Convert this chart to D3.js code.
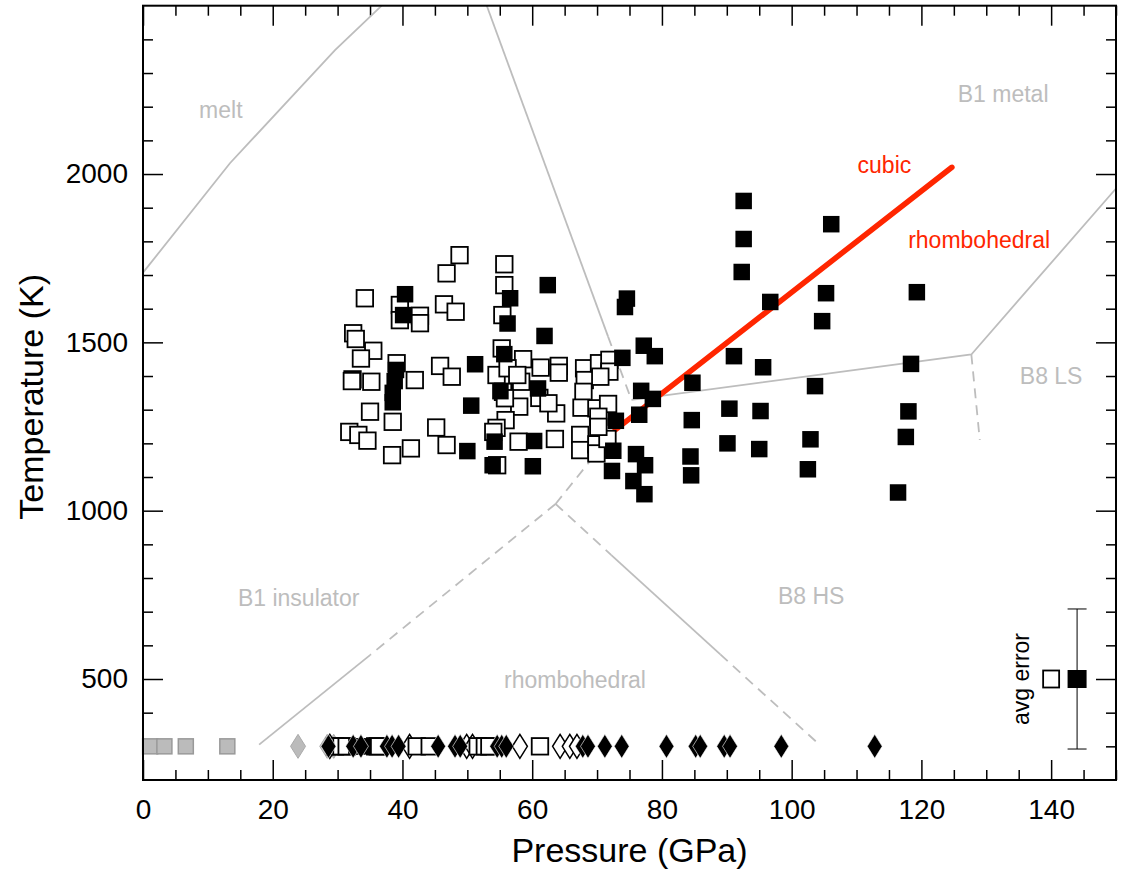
<!DOCTYPE html>
<html>
<head>
<meta charset="utf-8">
<title>Phase diagram</title>
<script src="https://cdnjs.cloudflare.com/ajax/libs/d3/7.8.5/d3.min.js"></script>
<style>
body{margin:0;background:#fff;}
svg text{font-family:"Liberation Sans",Arial,Helvetica,sans-serif;}
</style>
</head>
<body>
<div id="graph"></div>
<script>
// all points are [pressure (GPa), temperature (K)]
var openSquares = [
	[48.8,1759],[46.8,1705],[55.7,1732],[55.7,1670],[34.2,1631],[39.6,1611],[42.7,1579],[42.7,1557],[39.6,1566],
	[46.4,1613],[48.2,1591],[55.4,1581],[32.4,1527],[32.8,1510],[35.5,1475],[33.6,1452],[55.3,1482],[58.6,1450],
	[39.1,1438],[45.8,1430],[47.6,1398],[61.3,1425],[64.1,1430],[64.1,1410],[32.3,1390],[32.2,1385],[35.2,1383],
	[41.9,1388],[54.5,1403],[56.2,1423],[58.3,1383],[55.5,1353],[61.1,1335],[68.0,1423],[68.1,1388],[70.3,1438],
	[71.9,1448],[71.9,1413],[67.9,1353],[35.0,1294],[38.5,1264],[58.0,1309],[55.8,1334],[63.7,1289],[67.6,1306],
	[69.9,1304],[71.7,1317],[31.8,1234],[33.2,1225],[34.6,1208],[45.2,1247],[55.9,1269],[46.8,1195],[38.4,1165],
	[41.3,1185],[57.9,1205],[63.5,1213],[67.4,1225],[67.4,1180],[69.9,1197],[69.9,1170],[71.6,1213],[54.5,1246],
	[54.0,1234],[54.6,1135],[57.7,1403],[70.2,1279],[70.2,1249],[62.5,1319],[70.5,1398]
];
var filledSquares = [
	[92.6,1920],[92.6,1807],[92.3,1709],[106.1,1851],[96.7,1620],[105.3,1646],[119.3,1649],[104.7,1563],
	[74.6,1630],[74.3,1605],[77.2,1490],[78.9,1459],[73.9,1454],[91.1,1459],[95.6,1426],[118.4,1436],
	[84.7,1380],[103.6,1370],[76.8,1356],[78.6,1332],[76.5,1285],[72.9,1267],[90.4,1303],[95.2,1296],[118,1295],
	[84.6,1269],[90.1,1200],[95,1183],[102.9,1212],[117.6,1219],[84.4,1161],[72.5,1178],[76.0,1168],[77.4,1135],
	[72.3,1118],[84.5,1105],[102.5,1123],[75.6,1088],[77.3,1049],[116.4,1054],
	[40.4,1643],[40.1,1581],[62.4,1670],[56.6,1631],[56.2,1556],[61.9,1519],[55.7,1465],[51.2,1435],
	[39.0,1418],[38.8,1385],[38.5,1350],[38.5,1322],[55.1,1355],[60.9,1363],[50.6,1312],[54.2,1205],[60.3,1207],
	[50.0,1177],[53.9,1135],[60.1,1132]
];

// room temperature row (pressures only)
var roomT = 300;
var roomGraySquares = [1.1, 3.3, 6.6, 13.0];
var roomGrayDiamonds = [23.9, 28.4, 29.4];
var roomOpenDiamonds = [28.8, 41.1, 49.9, 50.8, 58.1, 64.3, 65.8, 66.9];
var roomOpenSquares = [29.6, 30.6, 31.4, 35.8, 36.2, 42.2, 44.2, 51.6, 52.7, 53.4, 61.2];
var roomFilledSquares = [32.9, 34.0];
var roomFilledDiamonds = [28.6, 32.4, 33.6, 37.6, 38.4, 39.4, 45.5, 48.1, 48.9, 54.6, 55.3, 56.0,
	67.8, 68.6, 71.2, 73.8, 80.7, 85.2, 85.9, 89.6, 90.5, 98.4, 112.8];

// phase boundaries
var solidLines = [
	[[0,1707],[13.4,2032],[29.6,2368],[36.8,2500]],
	[[53.0,2500],[71.7,1517]],
	[[75.3,1329],[127.7,1464],[150,1957]],
	[[35.0,571],[17.9,305]],
	[[72.2,868],[89.0,573]]
];
var dashedLines = [
	[[71.7,1517],[75.3,1329]],
	[[127.7,1464],[129,1210]],
	[[63.6,1020],[72.8,1240]],
	[[63.6,1020],[35.0,571]],
	[[63.6,1020],[72.2,868]],
	[[89.0,573],[104,310]]
];
var transitionLine = [[72.8,1240],[124.7,2020]];

var grayLabels = [
	["melt",12.0,2166],["B1 metal",132.6,2214],["B8 LS",140,1376],
	["B1 insulator",24,717],["B8 HS",103,722],["rhombohedral",66.6,473]
];
var redLabels = [["cubic",114.3,2003],["rhombohedral",128.9,1780]];

// avg error legend
var errOpen = [140, 500];
var errFilled = [144, 500];
var errSize = 208;

var xDomain = [0, 150];
var yDomain = [200, 2500];
var xMajor = [0, 20, 40, 60, 80, 100, 120, 140];
var yMajor = [500, 1000, 1500, 2000];

(function(){
"use strict";

var W = 1125, H = 871;
var left = 143, right = 1116, top = 5.7, bottom = 780;
var gray = "#bdbdbd";
var sq = 16.5;

var x = d3.scaleLinear().domain(xDomain).range([left, right]);
var y = d3.scaleLinear().domain(yDomain).range([bottom, top]);

var svg = d3.select('#graph')
	.append('svg')
		.attr('width', W)
		.attr('height', H);

var xMinor = d3.range(0, 151, 5).filter(function(v){ return v % 20 !== 0; });
var yMinor = d3.range(300, 2500, 100).filter(function(v){ return v % 500 !== 0; });

// ticks point inwards on all four sides
function ticks(axis, tr, values, len, labels){
	var g = svg.append('g')
		.attr('transform', tr)
		.call(axis.tickValues(values).tickSize(-len).tickSizeOuter(0)
			.tickFormat(labels ? d3.format('d') : ''));
	g.select('.domain').remove();
	g.selectAll('line').attr('stroke', '#000').attr('stroke-width', 1.5);
	return g;
}
var gx = ticks(d3.axisBottom(x).tickPadding(19), 'translate(0,' + bottom + ')', xMajor, 20, true);
ticks(d3.axisBottom(x), 'translate(0,' + bottom + ')', xMinor, 10, false);
ticks(d3.axisTop(x), 'translate(0,' + top + ')', xMajor, 20, false);
ticks(d3.axisTop(x), 'translate(0,' + top + ')', xMinor, 10, false);
var gy = ticks(d3.axisLeft(y).tickPadding(15), 'translate(' + left + ',0)', yMajor, 20, true);
ticks(d3.axisLeft(y), 'translate(' + left + ',0)', yMinor, 10, false);
ticks(d3.axisRight(y), 'translate(' + right + ',0)', yMajor, 20, false);
ticks(d3.axisRight(y), 'translate(' + right + ',0)', yMinor, 10, false);

gx.selectAll('text').attr('font-size', 28).attr('fill', '#000')
	.style('font-family', '"Liberation Sans",Arial,sans-serif');
gy.selectAll('text').attr('font-size', 28).attr('fill', '#000')
	.style('font-family', '"Liberation Sans",Arial,sans-serif');

// phase boundaries
var line = d3.line()
	.x(function(d){ return x(d[0]); })
	.y(function(d){ return y(d[1]); });

svg.append('g').selectAll('path')
	.data(solidLines)
	.enter()
	.append('path')
		.attr('d', line)
		.attr('fill', 'none')
		.attr('stroke', gray)
		.attr('stroke-width', 1.8);

svg.append('g').selectAll('path')
	.data(dashedLines)
	.enter()
	.append('path')
		.attr('d', line)
		.attr('fill', 'none')
		.attr('stroke', gray)
		.attr('stroke-width', 1.8)
		.attr('stroke-dasharray', '10,7');

svg.append('g').selectAll('text')
	.data(grayLabels)
	.enter()
	.append('text')
		.attr('x', function(d){ return x(d[1]); })
		.attr('y', function(d){ return y(d[2]); })
		.attr('text-anchor', 'middle')
		.attr('font-size', 23)
		.attr('fill', gray)
		.text(function(d){ return d[0]; });

// red transition line sits under the points
svg.append('path')
	.attr('d', line(transitionLine))
	.attr('fill', 'none')
	.attr('stroke', '#ff2600')
	.attr('stroke-width', 5.5)
	.attr('stroke-linecap', 'round');

svg.append('g').selectAll('text')
	.data(redLabels)
	.enter()
	.append('text')
		.attr('x', function(d){ return x(d[1]); })
		.attr('y', function(d){ return y(d[2]); })
		.attr('text-anchor', 'middle')
		.attr('font-size', 23)
		.attr('fill', '#ff2600')
		.text(function(d){ return d[0]; });

// data points
svg.append('g').selectAll('rect')
	.data(openSquares)
	.enter()
	.append('rect')
		.attr('x', function(d){ return x(d[0]) - sq / 2; })
		.attr('y', function(d){ return y(d[1]) - sq / 2; })
		.attr('width', sq)
		.attr('height', sq)
		.attr('fill', '#fff')
		.attr('stroke', '#000')
		.attr('stroke-width', 1.8);

svg.append('g').selectAll('rect')
	.data(filledSquares)
	.enter()
	.append('rect')
		.attr('x', function(d){ return x(d[0]) - sq / 2; })
		.attr('y', function(d){ return y(d[1]) - sq / 2; })
		.attr('width', sq)
		.attr('height', sq)
		.attr('fill', '#000');

// 300 K row
function diamond(p){
	var cx = x(p), cy = y(roomT);
	return 'M' + cx + ',' + (cy - 12) + 'L' + (cx + 7.5) + ',' + cy +
		'L' + cx + ',' + (cy + 12) + 'L' + (cx - 7.5) + ',' + cy + 'Z';
}
var room = svg.append('g');
room.selectAll('rect.gs')
	.data(roomGraySquares)
	.enter()
	.append('rect')
		.attr('class', 'gs')
		.attr('x', function(d){ return x(d) - 7.5; })
		.attr('y', y(roomT) - 7.5)
		.attr('width', 15)
		.attr('height', 15)
		.attr('fill', '#bbb')
		.attr('stroke', '#999')
		.attr('stroke-width', 1.5);
room.selectAll('path.gd')
	.data(roomGrayDiamonds)
	.enter()
	.append('path')
		.attr('class', 'gd')
		.attr('d', diamond)
		.attr('fill', '#bbb')
		.attr('stroke', '#aaa')
		.attr('stroke-width', 1);
room.selectAll('path.od')
	.data(roomOpenDiamonds)
	.enter()
	.append('path')
		.attr('class', 'od')
		.attr('d', diamond)
		.attr('fill', '#fff')
		.attr('stroke', '#000')
		.attr('stroke-width', 1.5);
room.selectAll('rect.os')
	.data(roomOpenSquares)
	.enter()
	.append('rect')
		.attr('class', 'os')
		.attr('x', function(d){ return x(d) - sq / 2; })
		.attr('y', y(roomT) - sq / 2)
		.attr('width', sq)
		.attr('height', sq)
		.attr('fill', '#fff')
		.attr('stroke', '#000')
		.attr('stroke-width', 1.8);
room.selectAll('rect.fs')
	.data(roomFilledSquares)
	.enter()
	.append('rect')
		.attr('class', 'fs')
		.attr('x', function(d){ return x(d) - sq / 2; })
		.attr('y', y(roomT) - sq / 2)
		.attr('width', sq)
		.attr('height', sq)
		.attr('fill', '#000');
room.selectAll('path.fd')
	.data(roomFilledDiamonds)
	.enter()
	.append('path')
		.attr('class', 'fd')
		.attr('d', diamond)
		.attr('fill', '#000')
		.attr('stroke', '#fff')
		.attr('stroke-width', 0.6);

// avg error legend
var ex = x(errFilled[0]);
svg.append('line')
	.attr('x1', ex).attr('x2', ex)
	.attr('y1', y(errFilled[1] - errSize)).attr('y2', y(errFilled[1] + errSize))
	.attr('stroke', '#000').attr('stroke-width', 1);
[errFilled[1] - errSize, errFilled[1] + errSize].forEach(function(t){
	svg.append('line')
		.attr('x1', ex - 9.5).attr('x2', ex + 9.5)
		.attr('y1', y(t)).attr('y2', y(t))
		.attr('stroke', '#000').attr('stroke-width', 1);
});
svg.append('rect')
	.attr('x', x(errOpen[0]) - 8).attr('y', y(errOpen[1]) - 8.5)
	.attr('width', 16).attr('height', 17)
	.attr('fill', '#fff').attr('stroke', '#000').attr('stroke-width', 1.8);
svg.append('rect')
	.attr('x', ex - 9.5).attr('y', y(errFilled[1]) - 9)
	.attr('width', 19).attr('height', 18)
	.attr('fill', '#000');
svg.append('text')
	.attr('transform', 'translate(' + (x(errOpen[0]) - 22) + ',' + y(errOpen[1]) + ') rotate(-90)')
	.attr('text-anchor', 'middle')
	.attr('font-size', 23)
	.attr('fill', '#000')
	.text('avg error');

// frame
svg.append('rect')
	.attr('x', left).attr('y', top)
	.attr('width', right - left).attr('height', bottom - top)
	.attr('fill', 'none')
	.attr('stroke', '#000')
	.attr('stroke-width', 2);

// axis titles
svg.append('text')
	.attr('x', (left + right) / 2)
	.attr('y', 862)
	.attr('text-anchor', 'middle')
	.attr('font-size', 34)
	.text('Pressure (GPa)');
svg.append('text')
	.attr('transform', 'translate(43,' + ((top + bottom) / 2 + 4) + ') rotate(-90)')
	.attr('text-anchor', 'middle')
	.attr('font-size', 34)
	.text('Temperature (K)');

})();
</script>
</body>
</html>
